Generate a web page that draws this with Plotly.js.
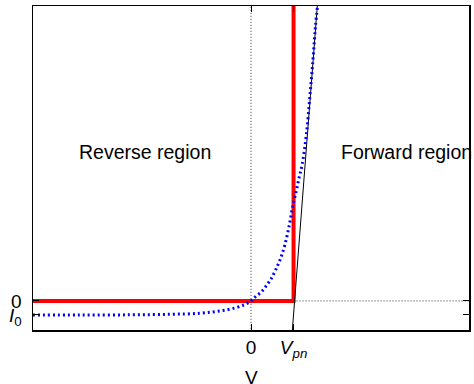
<!DOCTYPE html>
<html>
<head>
<meta charset="utf-8">
<script src="https://cdn.plot.ly/plotly-3.0.1.min.js"></script>
<style>html,body{margin:0;padding:0;background:#fff}#chart{width:474px;height:384px}</style>
</head>
<body>
<div id="chart"></div>
<script>
// Values (V in units where Vpn = 0.7, I in units of I0)
const Vpn = 0.7;
const curveV = [-3.59, -2.82, -1.99, -1.33, -0.84, -0.51, -0.26, -0.10, 0, 0.08, 0.17, 0.25, 0.33, 0.41, 0.49, 0.56, 0.63, 0.68, 0.74, 0.79, 0.84, 0.91, 0.97, 1.02, 1.06, 1.10];
const curveI = [-1.01, -1.0, -0.99, -0.95, -0.88, -0.71, -0.5, -0.25, 0, 0.32, 0.64, 1.07, 1.57, 2.25, 3.07, 4.04, 5.39, 6.61, 7.75, 8.75, 9.68, 11.82, 14.64, 17.21, 19.54, 21.25];
const idealV = [-3.7, Vpn, Vpn];
const idealI = [0, 0, 22];
const tangentV = [0.68, 1.095];
const tangentI = [-2.1, 21.25];
const zeroVlineV = [0, 0];
const zeroVlineI = [-2.2, 22];
const zeroIlineV = [Vpn, 3.7];
const zeroIlineI = [0, 0];
const xTickVals = [0, Vpn];
const xTickText = ['0', '<i>V<sub>pn</sub></i>'];
const yTickVals = [0, -1];
const yTickText = ['0', '<i>I</i><sub>0</sub>'];
const xTitle = 'V';
const regionLabels = ['Reverse region', 'Forward region'];
const regionV = [-2.87, 1.45];
const regionI = [10.6, 10.6];

const font = {family: '"Liberation Sans", Arial, sans-serif', size: 19, color: '#000'};
const annFont = {family: '"Liberation Sans", Arial, sans-serif', size: 19.5, color: '#000'};

const traces = [
  {x: zeroVlineV, y: zeroVlineI, mode: 'lines', line: {color: '#333', width: 1, dash: '1px,2px'}, hoverinfo: 'skip'},
  {x: zeroIlineV, y: zeroIlineI, mode: 'lines', line: {color: '#333', width: 1, dash: '1px,2px'}, hoverinfo: 'skip'},
  {x: idealV, y: idealI, mode: 'lines', line: {color: '#ff0000', width: 4}},
  {x: tangentV, y: tangentI, mode: 'lines', line: {color: '#000', width: 1}},
  {x: curveV, y: curveI, mode: 'lines', line: {color: '#0000ff', width: 3, dash: '2px,3px', shape: 'spline'}}
];

const annotations = regionLabels.map((t, i) => ({
  x: regionV[i], y: regionI[i], xref: 'x', yref: 'y', text: t,
  showarrow: false, xanchor: 'left', yanchor: 'middle', font: annFont
}));
annotations.push({
  x: 0.5, y: -0.108, xref: 'paper', yref: 'paper', text: xTitle,
  showarrow: false, xanchor: 'center', yanchor: 'top', font: font
});

const layout = {
  width: 474, height: 384,
  margin: {l: 33, r: 5, t: 6, b: 54},
  paper_bgcolor: '#fff', plot_bgcolor: '#fff',
  showlegend: false,
  font: font,
  xaxis: {
    range: [-3.586, 3.586], showgrid: false, zeroline: false,
    showline: true, linecolor: '#000', linewidth: 1.5, mirror: 'ticks',
    ticks: 'inside', ticklen: 6, tickcolor: '#000',
    tickmode: 'array', tickvals: xTickVals, ticktext: xTickText,
    tickfont: font
  },
  yaxis: {
    range: [-2.07, 21.0], showgrid: false, zeroline: false,
    showline: true, linecolor: '#000', linewidth: 1.5, mirror: 'ticks',
    ticks: 'inside', ticklen: 6, tickcolor: '#000',
    tickmode: 'array', tickvals: yTickVals, ticktext: yTickText,
    tickfont: font, ticklabelstandoff: 6
  },
  annotations: annotations
};

Plotly.newPlot('chart', traces, layout, {displayModeBar: false, staticPlot: true});
</script>
</body>
</html>
